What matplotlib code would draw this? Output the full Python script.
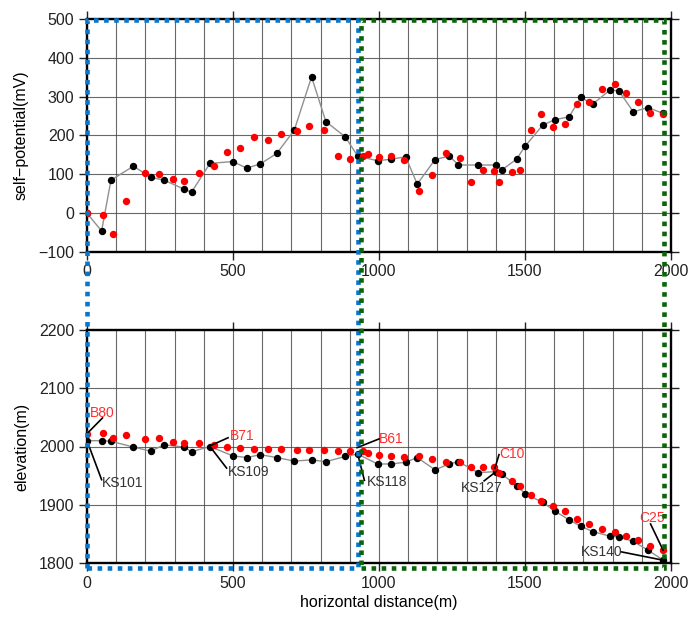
import matplotlib
matplotlib.use("Agg")
import matplotlib.pyplot as plt
import numpy as np
from matplotlib.patches import Rectangle
from matplotlib.transforms import blended_transform_factory

plt.rcParams["font.family"] = ["Liberation Sans", "DejaVu Sans"]

# station positions (m)
ks_x = [0, 50, 82, 159, 219, 264, 332, 358, 421, 499, 547, 594, 650, 710, 769, 818, 885, 927,
        995, 1041, 1091, 1131, 1192, 1241, 1272, 1340, 1401, 1422, 1471, 1500, 1561, 1603, 1651,
        1691, 1732, 1791, 1821, 1871, 1921, 1973]
ks_sp = [0, -46, 85, 121, 92, 85, 62, 54, 128, 133, 116, 127, 154, 214, 351, 236, 196, 147,
         135, 139, 145, 75, 138, 147, 124, 124, 124, 112, 139, 172, 227, 241, 248,
         298, 281, 317, 315, 261, 272, 257]
ks_elev = [2010, 2010, 2009, 1999, 1992, 2003, 1999, 1991, 2000, 1984, 1981, 1986, 1981, 1975,
           1977, 1974, 1983, 1987, 1970, 1970, 1973, 1981, 1960, 1970, 1974, 1955, 1957, 1952,
           1933, 1919, 1904, 1889, 1874, 1863, 1854, 1846, 1845, 1837, 1822, 1805]

bc_x = [0, 56, 88, 132, 199, 248, 293, 333, 384, 435, 478, 525, 572, 620, 663, 720, 760, 812,
        859, 901, 944, 963, 1001, 1041, 1085, 1138, 1182, 1230, 1276, 1315, 1355, 1395, 1412,
        1457, 1484, 1522, 1554, 1597, 1636, 1678, 1718, 1764, 1808, 1845, 1886, 1928, 1973]
bc_sp = [0, -6, -53, 32, 103, 100, 89, 83, 103, 121, 158, 169, 197, 189, 205, 212, 224, 214,
         148, 140, 147, 152, 145, 148, 137, 56, 99, 154, 143, 79, 110, 108, 81,
         107, 112, 213, 255, 222, 230, 280, 286, 319, 333, 310, 286, 259, 256]
bc_elev = [2022, 2023, 2015, 2019, 2013, 2014, 2007, 2006, 2006, 2002, 1999, 1998, 1996, 1995,
           1995, 1994, 1994, 1994, 1993, 1993, 1992, 1988, 1986, 1983, 1982, 1983, 1979, 1974,
           1974, 1965, 1965, 1965, 1954, 1941, 1932, 1916, 1906, 1897, 1890, 1876, 1867, 1859,
           1853, 1846, 1839, 1830, 1822]

# station labels: text, colour, (point), (line end), (text left/centre)
labels = [
    ("B80", "#ff3030", (0, 2022), (53, 2049), (10, 2058)),
    ("KS101", "#333333", (0, 2010), (50, 1943), (50, 1937)),
    ("B71", "#ff3030", (421, 2001), (483, 2015), (490, 2018)),
    ("KS109", "#333333", (421, 2000), (478, 1963), (481, 1957)),
    ("B61", "#ff3030", (925, 1998), (1000, 2013), (1001, 2013)),
    ("KS118", "#333333", (927, 1987), (950, 1942), (958, 1939)),
    ("C10", "#ff3030", (1397, 1963), (1411, 1986), (1412, 1987)),
    ("KS127", "#333333", (1401, 1957), (1360, 1941), (1281, 1929)),
    ("C25", "#ff3030", (1973, 1822), (1930, 1867), (1891, 1877)),
    ("KS140", "#333333", (1971, 1805), (1831, 1819), (1690, 1819)),
]

# dotted profile sections (m)
sections = [(0, 928, "#0a75c9"), (938, 1976, "#0a640a")]

W, H = 690, 617
fig = plt.figure(figsize=(W / 100, H / 100), dpi=100)
ax1 = fig.add_axes([87 / W, 1 - 252 / H, 584 / W, 233 / H])
ax2 = fig.add_axes([87 / W, 1 - 563 / H, 584 / W, 233 / H])


def style_axes(ax):
    ax.set_xlim(0, 2000)
    ax.set_xticks(np.arange(0, 2001, 500))
    ax.set_xticks(np.arange(0, 2001, 100), minor=True)
    ax.xaxis.grid(True, which="both", color="#444444", linewidth=0.8, alpha=0.8)
    ax.yaxis.grid(True, which="major", color="#444444", linewidth=0.8, alpha=0.8)
    ax.set_axisbelow(True)
    ax.tick_params(which="major", direction="out", length=6, width=1, top=True, right=True,
                   pad=3, labelsize=11.5, colors="#222222")
    ax.tick_params(which="minor", length=0)
    for sp in ax.spines.values():
        sp.set_linewidth(1.7)


ax1.plot(ks_x, ks_sp, color="#909090", linewidth=1.0, zorder=2)
ax1.plot(ks_x, ks_sp, "o", color="black", markersize=4.3, zorder=3)
ax1.plot(bc_x, bc_sp, "o", color="#ff0000", markersize=4.3, zorder=4)
style_axes(ax1)
ax1.set_ylim(-100, 500)
ax1.set_yticks(np.arange(-100, 501, 100))
ax1.set_ylabel("self\u2212potential(mV)", fontsize=11.5, labelpad=7)

ax2.plot(ks_x, ks_elev, color="#909090", linewidth=1.0, zorder=2)
ax2.plot(ks_x, ks_elev, "o", color="black", markersize=4.3, zorder=3)
ax2.plot(bc_x, bc_elev, "o", color="#ff0000", markersize=4.3, zorder=4)
style_axes(ax2)
ax2.set_ylim(1800, 2200)
ax2.set_yticks(np.arange(1800, 2201, 100))
ax2.set_ylabel("elevation(m)", fontsize=11.5, labelpad=7)
ax2.set_xlabel("horizontal distance(m)", fontsize=11.5, labelpad=3)

for text, col, pt, end, pos in labels:
    ax2.plot([pt[0], end[0]], [pt[1], end[1]], color="black", linewidth=1.2, zorder=5,
             clip_on=False)
    ax2.text(pos[0], pos[1], text, color=col, fontsize=10, ha="left", va="center", zorder=6)

trans = blended_transform_factory(ax2.transData, fig.transFigure)
y0, y1 = 1 - 568 / H, 1 - 20 / H
for x0, x1, col in sections:
    rect = Rectangle((x0, y0), x1 - x0, y1 - y0, transform=trans, fill=False, edgecolor=col,
                     linewidth=3.3, linestyle=(0, (1, 1.2)), zorder=10, clip_on=False)
    fig.add_artist(rect)

fig.savefig("out.png", dpi=100)
